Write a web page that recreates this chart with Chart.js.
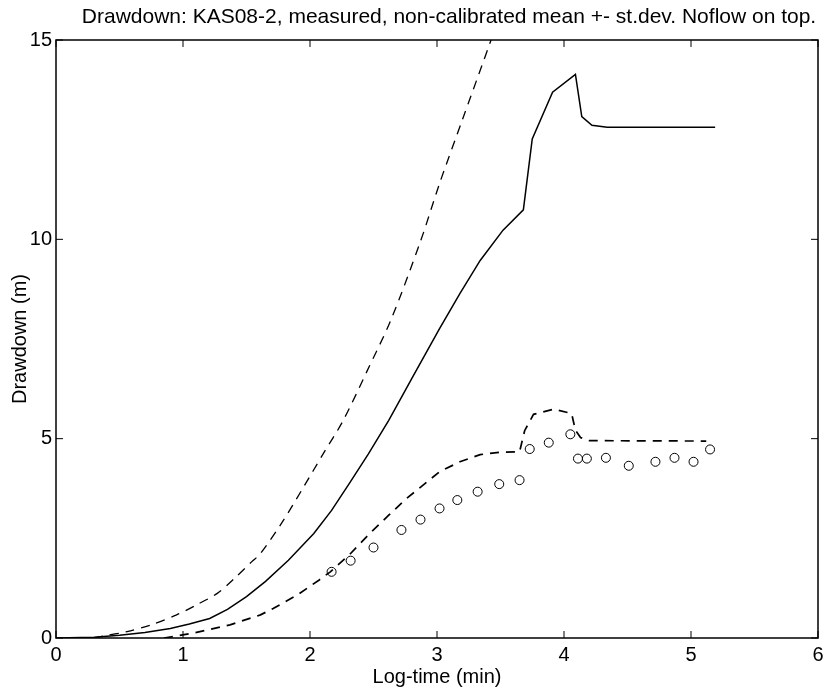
<!DOCTYPE html>
<html>
<head>
<meta charset="utf-8">
<script src="https://cdn.jsdelivr.net/npm/chart.js@4/dist/chart.umd.min.js"></script>
<style>
  html, body { margin: 0; padding: 0; background: #fff; }
  #wrap { width: 824px; height: 693px; }
</style>
</head>
<body>
<div id="wrap"><canvas id="drawdownChart"></canvas></div>
<script>
// log-time (min) vs drawdown (m)
var meanLine = [
  [0, 0], [0.3, 0.02], [0.5, 0.07], [0.7, 0.14], [0.9, 0.24], [1.05, 0.35], [1.21, 0.49],
  [1.35, 0.72], [1.5, 1.04], [1.65, 1.42], [1.83, 1.95], [2.03, 2.62], [2.17, 3.2],
  [2.31, 3.88], [2.46, 4.62], [2.62, 5.46], [2.8, 6.5], [3.02, 7.76], [3.18, 8.64],
  [3.34, 9.47], [3.52, 10.23], [3.68, 10.74], [3.75, 12.52], [3.91, 13.69], [4.09, 14.14],
  [4.14, 13.08], [4.22, 12.86], [4.34, 12.81], [5.19, 12.81]
];
var upperLine = [
  [0.3, 0], [0.37, 0.05], [0.56, 0.16], [0.75, 0.33], [0.95, 0.58], [1.1, 0.82], [1.27, 1.12],
  [1.4, 1.48], [1.54, 1.91], [1.61, 2.12], [1.78, 2.9], [1.95, 3.79], [2.1, 4.6], [2.26, 5.45],
  [2.45, 6.7], [2.64, 8.0], [2.87, 9.95], [3.02, 11.4], [3.2, 13.0], [3.42, 14.95], [3.48, 15.5]
];
var lowerLine = [
  [0.85, 0], [1.08, 0.12], [1.37, 0.33], [1.61, 0.58], [1.71, 0.74], [1.9, 1.08], [2.07, 1.45],
  [2.16, 1.66], [2.32, 2.12], [2.47, 2.62], [2.62, 3.08], [2.76, 3.5], [2.9, 3.86], [3.02, 4.17],
  [3.18, 4.42], [3.34, 4.6], [3.5, 4.66], [3.65, 4.67], [3.69, 5.2], [3.76, 5.61], [3.92, 5.74],
  [4.06, 5.63], [4.09, 5.21], [4.13, 5.03], [4.2, 4.95], [5.12, 4.94]
];
var measured = [
  [2.17, 1.66], [2.32, 1.94], [2.5, 2.27], [2.72, 2.71], [2.87, 2.97], [3.02, 3.25],
  [3.16, 3.46], [3.32, 3.67], [3.49, 3.86], [3.65, 3.96], [3.73, 4.74], [3.88, 4.9],
  [4.05, 5.11], [4.11, 4.5], [4.18, 4.5], [4.33, 4.52], [4.51, 4.32], [4.72, 4.42],
  [4.87, 4.52], [5.02, 4.42], [5.15, 4.73]
];
var xTicks = [0, 1, 2, 3, 4, 5, 6];
var yTicks = [0, 5, 10, 15];
var chartTitle = 'Drawdown: KAS08-2, measured, non-calibrated mean +- st.dev. Noflow on top.';

function toXY(arr) {
  return arr.map(function (p) { return { x: p[0], y: p[1] }; });
}

var fontFam = "'Liberation Sans', Arial, Helvetica, sans-serif";

// matlab style box with inward ticks, plus the title line
var boxTicks = {
  id: 'boxTicks',
  afterDraw: function (chart) {
    var ctx = chart.ctx, a = chart.chartArea;
    var xs = chart.scales.x, ys = chart.scales.y;
    ctx.save();
    ctx.strokeStyle = '#000';
    ctx.lineWidth = 1.5;
    ctx.strokeRect(a.left, a.top, a.right - a.left, a.bottom - a.top);
    ctx.lineWidth = 1;
    ctx.beginPath();
    xTicks.forEach(function (v) {
      var p = xs.getPixelForValue(v);
      ctx.moveTo(p, a.bottom); ctx.lineTo(p, a.bottom - 7);
      ctx.moveTo(p, a.top); ctx.lineTo(p, a.top + 7);
    });
    yTicks.forEach(function (v) {
      var p = ys.getPixelForValue(v);
      ctx.moveTo(a.left, p); ctx.lineTo(a.left + 7, p);
      ctx.moveTo(a.right, p); ctx.lineTo(a.right - 7, p);
    });
    ctx.stroke();

    ctx.fillStyle = '#000';
    ctx.font = '21px ' + fontFam;
    ctx.textAlign = 'center';
    ctx.textBaseline = 'middle';
    ctx.fillText(chartTitle, (a.left + a.right) / 2 + 12, 17);
    ctx.restore();
  }
};

new Chart(document.getElementById('drawdownChart'), {
  type: 'scatter',
  data: {
    datasets: [
      {
        label: 'mean',
        data: toXY(meanLine),
        showLine: true,
        borderColor: '#000',
        borderWidth: 1.5,
        pointRadius: 0,
        tension: 0
      },
      {
        label: 'mean + st.dev.',
        data: toXY(upperLine),
        showLine: true,
        borderColor: '#000',
        borderWidth: 1.3,
        borderDash: [9, 7],
        pointRadius: 0,
        tension: 0.3
      },
      {
        label: 'mean - st.dev.',
        data: toXY(lowerLine),
        showLine: true,
        borderColor: '#000',
        borderWidth: 1.7,
        borderDash: [9, 7],
        pointRadius: 0,
        tension: 0
      },
      {
        label: 'measured',
        data: toXY(measured),
        showLine: false,
        pointStyle: 'circle',
        pointRadius: 4.5,
        pointBorderWidth: 1,
        pointBorderColor: '#000',
        pointBackgroundColor: 'rgba(255,255,255,0)'
      }
    ]
  },
  options: {
    responsive: true,
    maintainAspectRatio: false,
    animation: false,
    layout: { padding: { left: 0, right: 6, top: 40, bottom: 0 } },
    plugins: {
      legend: { display: false },
      tooltip: { enabled: false },
      title: { display: false }
    },
    scales: {
      x: {
        type: 'linear',
        min: 0,
        max: 6,
        afterFit: function (s) { s.height = 55; s.paddingLeft = 0; s.paddingRight = 0; },
        afterBuildTicks: function (s) { s.ticks = xTicks.map(function (v) { return { value: v }; }); },
        grid: { display: false, drawTicks: false },
        border: { display: false },
        ticks: { color: '#000', padding: 5, font: { family: fontFam, size: 20 } },
        title: {
          display: true,
          text: 'Log-time (min)',
          color: '#000',
          padding: { top: 0 },
          font: { family: fontFam, size: 20 }
        }
      },
      y: {
        type: 'linear',
        min: 0,
        max: 15,
        afterFit: function (s) { s.width = 56; s.paddingTop = 0; s.paddingBottom = 0; },
        afterBuildTicks: function (s) { s.ticks = yTicks.map(function (v) { return { value: v }; }); },
        grid: { display: false, drawTicks: false },
        border: { display: false },
        ticks: { color: '#000', padding: 4, font: { family: fontFam, size: 20 } },
        title: {
          display: true,
          text: 'Drawdown (m)',
          color: '#000',
          padding: { top: 8, bottom: 0 },
          font: { family: fontFam, size: 20 }
        }
      }
    }
  },
  plugins: [boxTicks]
});
</script>
</body>
</html>
